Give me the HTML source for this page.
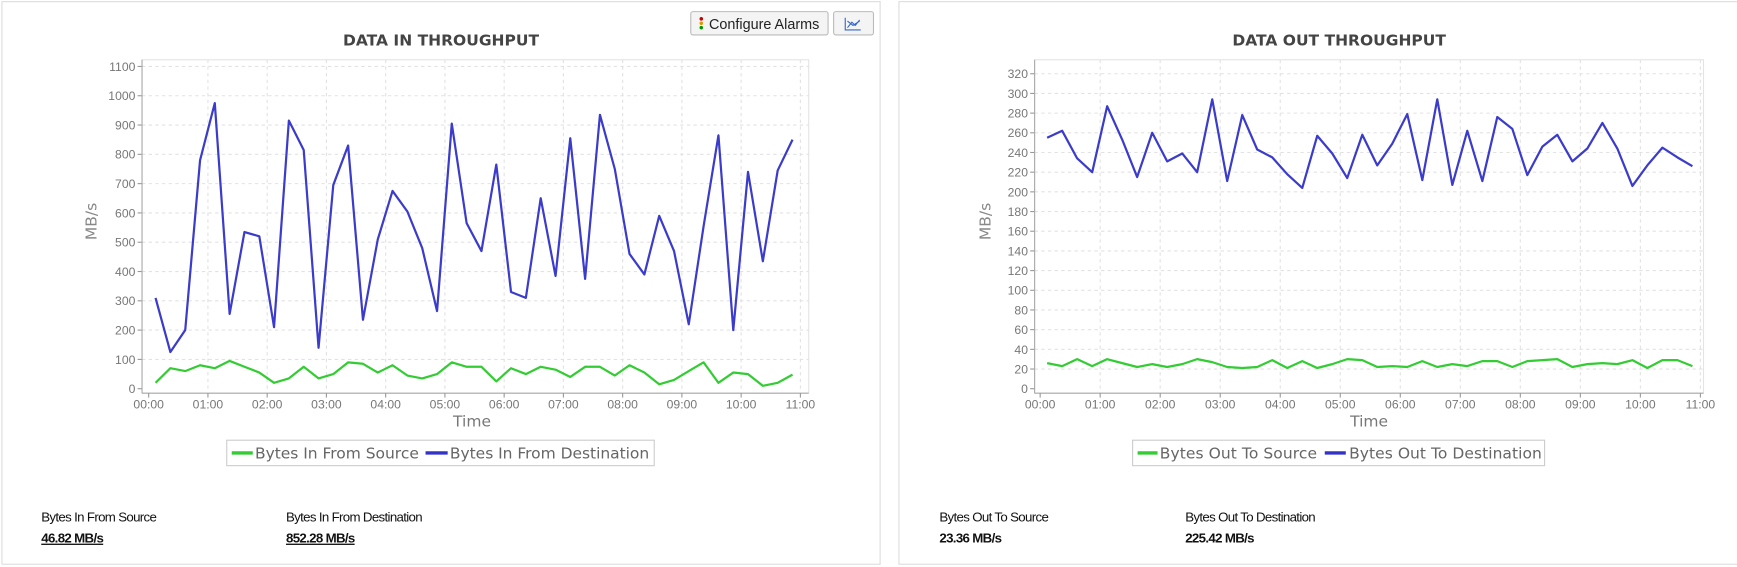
<!DOCTYPE html>
<html><head><meta charset="utf-8"><style>
html,body{margin:0;padding:0;background:#fff;}
svg{display:block;}
text{font-family:"Liberation Sans",sans-serif;}
.dj{font-family:"DejaVu Sans","Liberation Sans",sans-serif;}
</style></head><body>
<svg id="s" width="1737" height="567" viewBox="0 0 1568 512" xmlns="http://www.w3.org/2000/svg">
<rect x="1.5" y="1.5" width="793" height="508" fill="#fff" stroke="#ddd"/>
<rect x="811.5" y="1.5" width="760" height="508" fill="#fff" stroke="#ddd"/>
<g id="g"></g>
<rect x="623.5" y="10.5" width="124" height="21" rx="2" fill="#f4f4f4" stroke="#bbb"/>
<circle cx="633" cy="17" r="1.6" fill="#c00"/><circle cx="633" cy="21" r="1.6" fill="#d90"/><circle cx="633" cy="25" r="1.6" fill="#090"/>
<text x="640" y="26" font-size="13" fill="#222">Configure Alarms</text>
<rect x="752.5" y="10.5" width="36" height="21" rx="2" fill="#f4f4f4" stroke="#bbb"/>
<path d="M763 16v11h14M765 25l4-5 3 3 4-5M765 19l5 4 6-4" stroke="#36c" stroke-width="1" fill="none"/>
<text class="dj" x="398" y="41" font-size="14" font-weight="bold" fill="#444" text-anchor="middle">DATA IN THROUGHPUT</text>
<text class="dj" x="1209" y="41" font-size="14" font-weight="bold" fill="#444" text-anchor="middle">DATA OUT THROUGHPUT</text>
<text class="dj" x="426" y="385" font-size="14" fill="#777" text-anchor="middle">Time</text>
<text class="dj" x="1236" y="385" font-size="14" fill="#777" text-anchor="middle">Time</text>
<text class="dj" transform="translate(87,200) rotate(-90)" font-size="14" fill="#888" text-anchor="middle">MB/s</text>
<text class="dj" transform="translate(894,200) rotate(-90)" font-size="14" fill="#888" text-anchor="middle">MB/s</text>
<rect x="204.5" y="397.5" width="386" height="23" fill="#fff" stroke="#ccc"/>
<line x1="209" y1="409" x2="228" y2="409" stroke="#3c3" stroke-width="3"/>
<text class="dj" x="230" y="414" font-size="14" fill="#666" textLength="148">Bytes In From Source</text>
<line x1="384" y1="409" x2="404" y2="409" stroke="#33c" stroke-width="3"/>
<text class="dj" x="406" y="414" font-size="14" fill="#666" textLength="180">Bytes In From Destination</text>
<rect x="1022.5" y="397.5" width="372" height="23" fill="#fff" stroke="#ccc"/>
<line x1="1027" y1="409" x2="1045" y2="409" stroke="#3c3" stroke-width="3"/>
<text class="dj" x="1047" y="414" font-size="14" fill="#666" textLength="142">Bytes Out To Source</text>
<line x1="1196" y1="409" x2="1215" y2="409" stroke="#33c" stroke-width="3"/>
<text class="dj" x="1218" y="414" font-size="14" fill="#666" textLength="174">Bytes Out To Destination</text>
<g font-size="12" fill="#111" letter-spacing="-0.6">
<text x="37" y="471">Bytes In From Source</text>
<text x="37" y="490" font-weight="bold" text-decoration="underline">46.82 MB/s</text>
<text x="258" y="471">Bytes In From Destination</text>
<text x="258" y="490" font-weight="bold" text-decoration="underline">852.28 MB/s</text>
<text x="848" y="471">Bytes Out To Source</text>
<text x="848" y="490" font-weight="bold">23.36 MB/s</text>
<text x="1070" y="471">Bytes Out To Destination</text>
<text x="1070" y="490" font-weight="bold">225.42 MB/s</text>
</g>
</svg>
<script>
var NS="http://www.w3.org/2000/svg",G=document.getElementById('g');
function el(t,a,txt){var e=document.createElementNS(NS,t);for(var k in a)e.setAttribute(k,a[k]);if(txt!=null)e.textContent=txt;G.appendChild(e);return e;}
function chart(c){
 el('rect',{x:c.ax,y:c.top,width:c.right-c.ax,height:c.y0-c.top+4,fill:'#fff',stroke:'#e4e4e4'});
 for(var v=0;v<=c.max;v+=c.step){var y=c.y0-v*c.py;
  if(v>0)el('line',{x1:c.ax,x2:c.right,y1:y,y2:y,stroke:'#e2e2e2','stroke-dasharray':'3,3'});
  el('line',{x1:c.ax-4,x2:c.ax,y1:y,y2:y,stroke:'#999'});
  el('text',{x:c.ax-6,y:y+4,'font-size':11,fill:'#777','text-anchor':'end'},v);}
 el('line',{x1:c.ax,x2:c.ax,y1:c.top,y2:c.y0+4,stroke:'#aaa'});
 el('line',{x1:c.ax,x2:c.right,y1:c.y0+4,y2:c.y0+4,stroke:'#aaa'});
 for(var h=0;h<=11;h++){var x=c.x0+h*c.ph;
  if(h>0)el('line',{x1:x,x2:x,y1:c.top,y2:c.y0,stroke:'#e2e2e2','stroke-dasharray':'3,3'});
  el('line',{x1:x,x2:x,y1:c.y0+4,y2:c.y0+8,stroke:'#999'});
  el('text',{x:x,y:c.y0+18,'font-size':11,fill:'#777','text-anchor':'middle'},(h<10?'0':'')+h+':00');}
 [[c.g,'#3c3',2],[c.b,'#3b3bcc',2]].forEach(function(s){
  var p=s[0].map(function(v,i){return (c.x0+(7+15*i)/60*c.ph).toFixed(1)+','+(c.y0-v*c.py).toFixed(1)}).join(' ');
  el('polyline',{points:p,fill:'none',stroke:s[1],'stroke-width':s[2],'stroke-linejoin':'round'});});
}
chart({ax:128,right:730,top:54,y0:351,x0:134,ph:53.5,max:1100,step:100,py:(351-60)/1100,
 b:[310,125,200,780,975,255,535,520,210,915,815,140,695,830,235,510,675,605,480,265,905,565,470,765,330,310,650,385,855,375,935,750,460,390,590,470,220,555,865,200,740,435,745,850],
 g:[20,70,60,80,70,95,75,55,20,35,75,35,50,90,85,55,80,45,35,50,90,75,75,25,70,50,75,65,40,75,75,45,80,55,15,30,60,90,20,55,50,10,20,48]});
chart({ax:934,right:1538,top:54,y0:351,x0:939,ph:54.2,max:320,step:20,py:(351-66.6)/320,
 b:[255,262,234,220,287,253,215,260,231,239,220,294,211,278,243,235,218,204,257,239,214,258,227,249,279,212,294,207,262,211,276,264,217,246,258,231,244,270,244,206,227,245,235,226],
 g:[26,23,30,23,30,26,22,25,22,25,30,27,22,21,22,29,21,28,21,25,30,29,22,23,22,28,22,25,23,28,28,22,28,29,30,22,25,26,25,29,21,29,29,23]});
</script>
</body></html>
